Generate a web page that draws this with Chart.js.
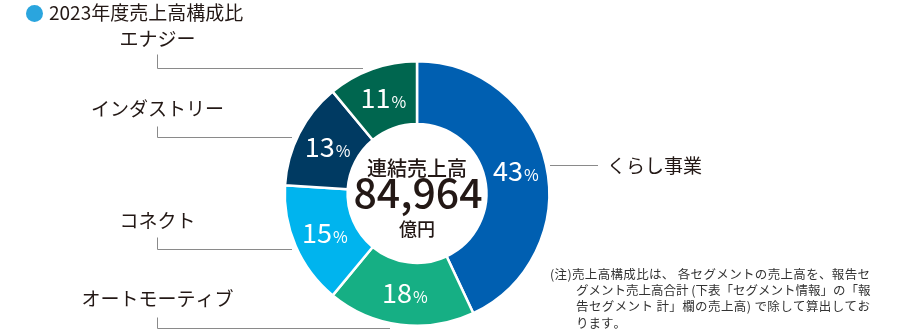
<!DOCTYPE html>
<html>
<head>
<meta charset="utf-8">
<script src="https://cdn.jsdelivr.net/npm/chart.js@4"></script>
<style>
  html, body { margin: 0; padding: 0; background: #fff; }
  #wrap { width: 900px; height: 332px; position: relative; }
  canvas { display: block; }
</style>
</head>
<body>
<div id="wrap"><canvas id="c" width="900" height="332"></canvas></div>
<script>
// ---- data ----
const categories = ['くらし事業', 'オートモーティブ', 'コネクト', 'インダストリー', 'エナジー'];
const shares = [43, 18, 15, 13, 11];
const segmentColors = ['#005FB1', '#16AF84', '#00B4EE', '#003A62', '#00664F'];
const titleText = '2023年度売上高構成比';
const centerTitle = '連結売上高';
const centerValue = '84,964';
const centerUnit = '億円';
const noteLines = [
  '(注)売上高構成比は、 各セグメントの売上高を、報告セ',
  'グメント売上高合計 (下表「セグメント情報」の「報',
  '告セグメント 計」欄の売上高) で除して算出してお',
  'ります。'
];

const JP = '"Noto Sans CJK JP", "Noto Sans", sans-serif';
const TXT = '#231815';

function drawJustified(ctx, text, x, y, right) {
  const chars = Array.from(text);
  const widths = chars.map(c => ctx.measureText(c).width);
  const natural = widths.reduce((a, b) => a + b, 0);
  const gap = right == null ? 0 : Math.max(0, (right - x - natural) / (chars.length - 1));
  let cx = x;
  chars.forEach((c, i) => {
    ctx.fillText(c, cx, y);
    cx += widths[i] + gap;
  });
}

const overlay = {
  id: 'overlay',
  afterDraw(chart) {
    const ctx = chart.ctx;
    const meta = chart.getDatasetMeta(0);
    const arc0 = meta.data[0];
    const cx = arc0.x, cy = arc0.y;
    ctx.save();

    // percentage labels
    meta.data.forEach((arc, i) => {
      const p = arc.tooltipPosition();
      const num = String(shares[i]);
      ctx.font = '27px ' + JP;
      const wn = ctx.measureText(num).width;
      ctx.font = '16px ' + JP;
      const wp = ctx.measureText('%').width;
      const x0 = p.x - (wn + wp) / 2;
      ctx.fillStyle = '#fff';
      ctx.textBaseline = 'alphabetic';
      ctx.textAlign = 'left';
      ctx.font = '27px ' + JP;
      ctx.fillText(num, x0, p.y + 9);
      ctx.font = '16px ' + JP;
      ctx.fillText('%', x0 + wn + 1, p.y + 9);
    });

    // center text
    ctx.fillStyle = TXT;
    ctx.textAlign = 'center';
    ctx.textBaseline = 'middle';
    ctx.font = '500 20px ' + JP;
    ctx.fillText(centerTitle, cx, cy - 25);
    ctx.textBaseline = 'alphabetic';
    ctx.font = '500 41px ' + JP;
    ctx.fillText(centerValue, cx + 1, cy + 14.5);
    ctx.textBaseline = 'middle';
    ctx.font = '500 18px ' + JP;
    ctx.fillText(centerUnit, cx, cy + 36);

    // leader lines
    ctx.strokeStyle = '#8a8a8a';
    ctx.lineWidth = 1;
    const lx = cx - 259.5;
    const leaders = [
      [cy - 139, cy - 126, cx - 54],
      [cy - 67, cy - 57, cx - 125],
      [cy + 44, cy + 55, cx - 125],
      [cy + 124, cy + 134, cx - 27]
    ];
    leaders.forEach(([y1, y2, xe]) => {
      ctx.beginPath();
      ctx.moveTo(lx, y1);
      ctx.lineTo(lx, Math.round(y2) + 0.5);
      ctx.lineTo(xe, Math.round(y2) + 0.5);
      ctx.stroke();
    });
    ctx.beginPath();
    ctx.moveTo(cx + 133, Math.round(cy - 29) + 0.5);
    ctx.lineTo(cx + 181, Math.round(cy - 29) + 0.5);
    ctx.stroke();

    // category labels
    ctx.fillStyle = TXT;
    ctx.font = '19px ' + JP;
    ctx.textAlign = 'center';
    ctx.textBaseline = 'middle';
    ctx.fillText(categories[4], lx, cy - 155);
    ctx.fillText(categories[3], lx, cy - 85);
    ctx.fillText(categories[2], lx, cy + 27);
    ctx.fillText(categories[1], lx, cy + 105);
    ctx.textAlign = 'left';
    ctx.fillText(categories[0], cx + 190, cy - 28);

    // title
    ctx.fillStyle = '#2AA5DE';
    ctx.beginPath();
    ctx.arc(34.5, 13.5, 8.5, 0, Math.PI * 2);
    ctx.fill();
    ctx.fillStyle = TXT;
    ctx.textAlign = 'left';
    ctx.font = '19px ' + JP;
    ctx.fillText(titleText, 49, 13);

    // note
    ctx.fillStyle = '#333';
    ctx.font = '12.5px ' + JP;
    ctx.textBaseline = 'middle';
    ctx.textAlign = 'left';
    noteLines.forEach((t, i) => {
      const x = i === 0 ? 550 : 576;
      const right = i < noteLines.length - 1 ? 870 : null;
      drawJustified(ctx, t, x, 274 + i * 16.3, right);
    });

    ctx.restore();
  }
};

new Chart(document.getElementById('c'), {
  type: 'doughnut',
  data: {
    labels: categories,
    datasets: [{
      data: shares,
      backgroundColor: segmentColors,
      borderColor: '#ffffff',
      borderWidth: 2.5,
      hoverOffset: 0
    }]
  },
  options: {
    responsive: false,
    animation: false,
    devicePixelRatio: 1,
    cutout: '52.5%',
    layout: { padding: { left: 283, right: 349, top: 60, bottom: 5 } },
    plugins: { legend: { display: false }, tooltip: { enabled: false }, title: { display: false } }
  },
  plugins: [overlay]
});
</script>
</body>
</html>
